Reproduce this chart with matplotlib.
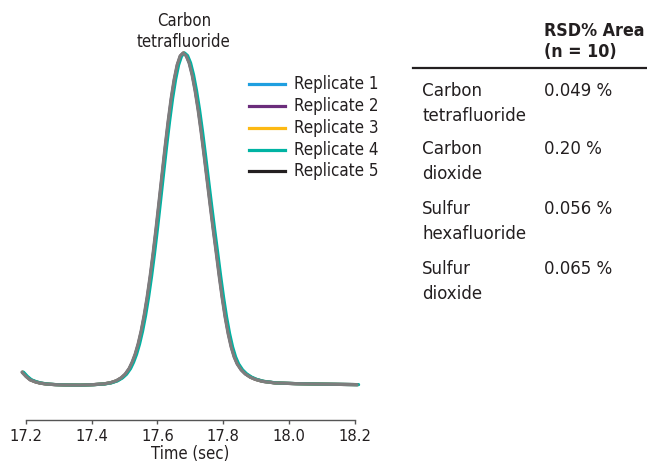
import os
import matplotlib
matplotlib.use("Agg")
import matplotlib.pyplot as plt
from matplotlib.lines import Line2D
from matplotlib import font_manager as fm

# ---------------- data ----------------
time_sec = [17.1888, 17.2009, 17.2131, 17.2283, 17.2434, 17.2647, 17.2890, 17.3193,
            17.3649, 17.4047, 17.4351, 17.4563, 17.4745, 17.4897, 17.5019, 17.5140,
            17.5231, 17.5322, 17.5413, 17.5505, 17.5596, 17.5687, 17.5778, 17.5869,
            17.5960, 17.6051, 17.6142, 17.6233, 17.6324, 17.6416, 17.6507, 17.6598,
            17.6689, 17.6780, 17.6871, 17.6962, 17.7053, 17.7144, 17.7236, 17.7327,
            17.7418, 17.7509, 17.7600, 17.7691, 17.7782, 17.7873, 17.7964, 17.8055,
            17.8147, 17.8238, 17.8329, 17.8420, 17.8541, 17.8663, 17.8815, 17.8966,
            17.9179, 17.9574, 18.0181, 18.0940, 18.2064]
signal = [3.9, 2.6, 1.6, 1.0, 0.6, 0.3, 0.15, 0.05,
          0.0, 0.15, 0.35, 0.7, 1.3, 2.2, 3.3, 5.0,
          6.9, 9.3, 12.4, 16.3, 21.0, 26.5, 32.8, 39.8,
          47.4, 55.5, 63.7, 71.8, 79.4, 86.3, 92.0, 96.4,
          99.1, 100.0, 99.2, 97.0, 93.4, 88.6, 82.8, 76.2,
          69.0, 61.6, 54.2, 47.0, 40.1, 33.0, 26.4, 20.5,
          15.5, 11.5, 8.5, 6.4, 4.6, 3.4, 2.4, 1.75,
          1.15, 0.65, 0.45, 0.3, 0.15]
replicates = ["Replicate 1", "Replicate 2", "Replicate 3", "Replicate 4", "Replicate 5"]
rt_offsets = [0.002, 0.001, 0.002, 0.0045, 0.0]   # retention-time shift per replicate (sec)
legend_colors = ["#1f9fe0", "#6b2d7b", "#fdb913", "#00b3a3", "#231f20"]
trace_colors = ["#1f9fe0", "#6b2d7b", "#fdb913", "#00b3a3", "#7d7d7d"]

x_ticks = [17.2, 17.4, 17.6, 17.8, 18.0, 18.2]
x_label = "Time (sec)"
peak_label = "Carbon\ntetrafluoride"

table_header = "RSD% Area\n(n = 10)"
compounds = ["Carbon\ntetrafluoride", "Carbon\ndioxide", "Sulfur\nhexafluoride", "Sulfur\ndioxide"]
rsd_values = ["0.049 %", "0.20 %", "0.056 %", "0.065 %"]


# ---------------- font: prefer a condensed/narrow sans ----------------
def find_narrow(bold):
    best = None
    for f in fm.fontManager.ttflist:
        fn = os.path.basename(f.fname).lower()
        if not ('narrow' in fn or 'condensed' in fn):
            continue
        if 'italic' in fn or 'oblique' in fn:
            continue
        if ('bold' in fn) != bold:
            continue
        rank = 0 if 'liberation' in fn else (1 if 'dejavu' in fn else 2)
        if 'light' in fn or 'extra' in fn or 'semi' in fn or 'medium' in fn or 'black' in fn:
            rank += 5
        if best is None or rank < best[0]:
            best = (rank, f.fname)
    return best[1] if best else None


reg_path = find_narrow(False)
bold_path = find_narrow(True)
if reg_path:
    P = lambda size: fm.FontProperties(fname=reg_path, size=size)
else:
    P = lambda size: fm.FontProperties(family=['Liberation Sans', 'DejaVu Sans'], size=size)
if bold_path:
    PB = lambda size: fm.FontProperties(fname=bold_path, size=size)
elif reg_path:
    PB = lambda size: fm.FontProperties(fname=reg_path, size=size, weight='bold')
else:
    PB = lambda size: fm.FontProperties(family=['Liberation Sans', 'DejaVu Sans'], size=size, weight='bold')

# ---------------- figure ----------------
W, H = 647, 463
fig = plt.figure(figsize=(W / 100, H / 100), dpi=100)
TXT = "#231f20"

ax_left, ax_right = 25.7, 355.0
ax_top, ax_bot = 44.7, 420.0
ax = fig.add_axes([ax_left / W, 1 - ax_bot / H, (ax_right - ax_left) / W, (ax_bot - ax_top) / H])

for i, name in enumerate(replicates):
    t = [v + rt_offsets[i] for v in time_sec]
    ax.plot(t, signal, color=trace_colors[i], lw=2.3, solid_capstyle='round',
            solid_joinstyle='round', clip_on=False, zorder=2 + i)

ax.set_xlim(17.2, 18.2)
ax.set_ylim(-10.5, 102.5)
ax.set_xticks(x_ticks)
ax.set_xticklabels([f"{v:.1f}" for v in x_ticks])
for s in ["left", "top", "right"]:
    ax.spines[s].set_visible(False)
ax.spines["bottom"].set_color("#555555")
ax.spines["bottom"].set_linewidth(1.0)
ax.set_yticks([])
ax.tick_params(axis='x', direction='out', length=3, width=1.0, color="#555555",
               labelcolor=TXT, pad=3.5)
for lab in ax.get_xticklabels():
    lab.set_fontproperties(P(11.8))
ax.set_xlabel(x_label, fontproperties=P(12), color=TXT, labelpad=0.6)

ax.text(17.68, 100.6, peak_label, ha='center', va='bottom', fontproperties=P(12),
        color=TXT, linespacing=1.2)

# legend (manual)
leg_y = [84, 106, 128, 149.5, 171]
for name, col, y in zip(replicates, legend_colors, leg_y):
    fig.add_artist(Line2D([249 / W, 285 / W], [1 - y / H, 1 - y / H], color=col, lw=2.3))
    fig.text(294 / W, 1 - y / H, name, ha='left', va='center', fontproperties=P(12.2), color=TXT)

# table
fig.text(544 / W, 1 - 41.5 / H, table_header, ha='left', va='center', fontproperties=PB(12.8),
         color=TXT, linespacing=1.25)
fig.add_artist(Line2D([413 / W, 647 / W], [1 - 68 / H, 1 - 68 / H], color="#231f20", lw=1.6))
row_y = [103.5, 161.5, 221.5, 281.5]
for comp, val, y in zip(compounds, rsd_values, row_y):
    fig.text(422 / W, 1 - y / H, comp, ha='left', va='center', fontproperties=P(13.3),
             color=TXT, linespacing=1.5)
    fig.text(544 / W, 1 - (y - 13) / H, val, ha='left', va='center', fontproperties=P(13.3), color=TXT)

fig.savefig("out.png", dpi=100)
